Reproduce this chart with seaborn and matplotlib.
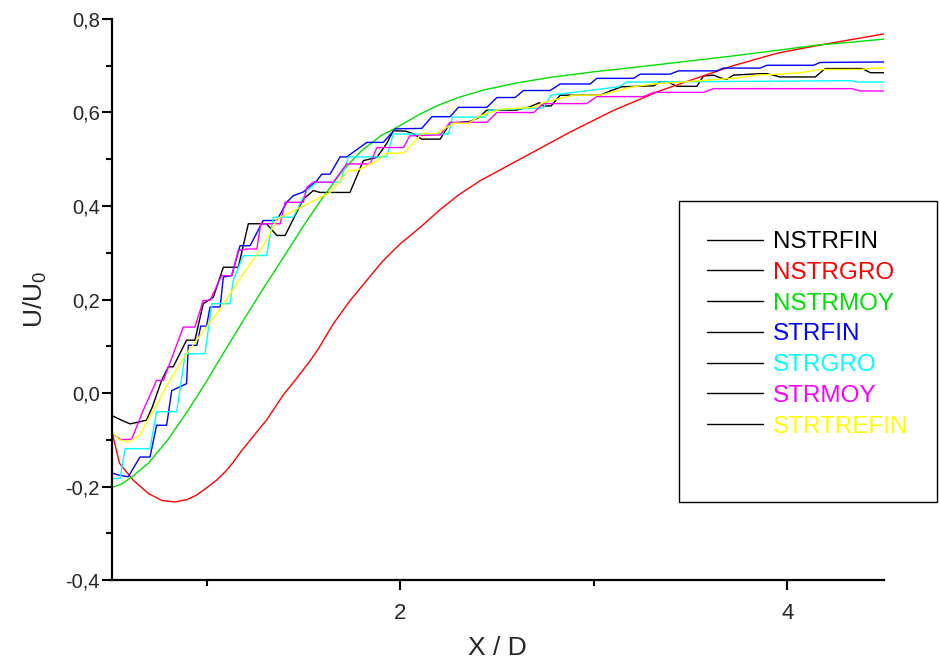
import matplotlib
matplotlib.use("Agg")
import matplotlib.pyplot as plt
import seaborn as sns
import numpy as np
from matplotlib.lines import Line2D
from matplotlib.patches import Rectangle
from matplotlib.ticker import FixedLocator, MultipleLocator, FuncFormatter

# ---------------- data ----------------
series_names = ["NSTRFIN", "NSTRGRO", "NSTRMOY", "STRFIN", "STRGRO", "STRMOY", "STRTREFIN"]
series_colors = ["#000000", "#ff0000", "#00e000", "#0000ff", "#00ffff", "#ff00ff", "#ffff00"]

nstrfin_x = [0.51, 0.56, 0.605, 0.65, 0.69, 0.72, 0.768, 0.803, 0.828, 0.897, 0.94, 0.983, 1.035, 1.087,
             1.164, 1.216, 1.31, 1.363, 1.406, 1.5, 1.552, 1.586, 1.741, 1.81, 1.88, 1.93, 1.965, 2.03,
             2.069, 2.112, 2.207, 2.258, 2.362, 2.405, 2.448, 2.6, 2.67, 2.72, 2.74, 2.78, 2.827, 3.034,
             3.085, 3.145, 3.31, 3.345, 3.38, 3.43, 3.533, 3.567, 3.62, 3.654, 3.688, 3.722, 3.86, 3.895,
             3.964, 4.145, 4.196, 4.386, 4.43, 4.5]
nstrfin_y = [-0.048, -0.058, -0.066, -0.062, -0.058, -0.03, 0.027, 0.056, 0.056, 0.113, 0.113, 0.191, 0.205, 0.269,
             0.269, 0.362, 0.362, 0.337, 0.337, 0.415, 0.433, 0.429, 0.429, 0.497, 0.504, 0.533, 0.561, 0.56,
             0.554, 0.543, 0.543, 0.577, 0.581, 0.589, 0.605, 0.605, 0.612, 0.621, 0.614, 0.614, 0.637, 0.637,
             0.646, 0.655, 0.657, 0.666, 0.666, 0.656, 0.656, 0.678, 0.68, 0.674, 0.671, 0.68, 0.683, 0.683,
             0.676, 0.676, 0.694, 0.694, 0.685, 0.685]

nstrgro_x = [0.51, 0.55, 0.62, 0.7, 0.77, 0.837, 0.9, 0.95, 1.0, 1.053, 1.1, 1.14, 1.18, 1.225, 1.27, 1.31,
             1.35, 1.395, 1.44, 1.483, 1.53, 1.58, 1.655, 1.74, 1.828, 1.91, 2.0, 2.103, 2.2, 2.3, 2.413,
             2.65, 2.878, 3.1, 3.34, 3.55, 3.72, 3.95, 4.14, 4.22, 4.36, 4.5]
nstrgro_y = [-0.08, -0.15, -0.186, -0.215, -0.23, -0.233, -0.228, -0.218, -0.203, -0.186, -0.167, -0.147,
             -0.124, -0.101, -0.078, -0.058, -0.033, -0.005, 0.018, 0.041, 0.066, 0.096, 0.148, 0.197, 0.241,
             0.282, 0.319, 0.354, 0.39, 0.423, 0.454, 0.507, 0.558, 0.604, 0.646, 0.676, 0.7, 0.727, 0.742,
             0.748, 0.758, 0.768]

nstrmoy_x = [0.51, 0.56, 0.613, 0.7, 0.8, 0.9, 1.0, 1.053, 1.1, 1.2, 1.3, 1.4, 1.5, 1.6, 1.7, 1.8, 1.9,
             2.0, 2.1, 2.2, 2.3, 2.43, 2.6, 2.775, 3.0, 3.2, 3.45, 3.72, 3.95, 4.15, 4.35, 4.5]
nstrmoy_y = [-0.202, -0.195, -0.18, -0.15, -0.1, -0.04, 0.025, 0.062, 0.094, 0.162, 0.228, 0.292, 0.357,
             0.418, 0.474, 0.518, 0.55, 0.572, 0.596, 0.616, 0.632, 0.648, 0.663, 0.675, 0.687, 0.696,
             0.708, 0.721, 0.733, 0.744, 0.751, 0.757]

strfin_x = [0.51, 0.55, 0.596, 0.656, 0.708, 0.742, 0.794, 0.82, 0.897, 0.906, 0.95, 0.97, 1.0, 1.018,
            1.07, 1.087, 1.13, 1.173, 1.225, 1.293, 1.363, 1.414, 1.448, 1.5, 1.57, 1.595, 1.638, 1.69,
            1.724, 1.828, 1.913, 1.975, 2.112, 2.164, 2.258, 2.301, 2.448, 2.5, 2.594, 2.637, 2.775, 2.827,
            2.982, 3.016, 3.206, 3.24, 3.395, 3.438, 3.636, 3.67, 3.86, 3.895, 4.136, 4.17, 4.5]
strfin_y = [-0.171, -0.176, -0.179, -0.137, -0.137, -0.069, -0.069, 0.005, 0.02, 0.102, 0.102, 0.143, 0.143,
            0.184, 0.184, 0.248, 0.251, 0.315, 0.315, 0.369, 0.369, 0.408, 0.422, 0.43, 0.454, 0.468, 0.468,
            0.505, 0.505, 0.536, 0.536, 0.565, 0.566, 0.591, 0.591, 0.611, 0.611, 0.632, 0.632, 0.647, 0.647,
            0.661, 0.661, 0.673, 0.673, 0.682, 0.682, 0.689, 0.689, 0.695, 0.695, 0.701, 0.701, 0.707, 0.708]

strgro_x = [0.51, 0.553, 0.579, 0.708, 0.742, 0.846, 0.89, 0.992, 1.027, 1.121, 1.138, 1.19, 1.31, 1.345,
            1.448, 1.518, 1.57, 1.69, 1.733, 1.93, 1.965, 2.25, 2.27, 2.44, 2.46, 2.74, 2.78, 3.13, 3.17,
            4.33, 4.36, 4.5]
strgro_y = [-0.183, -0.183, -0.119, -0.119, -0.04, -0.04, 0.084, 0.084, 0.191, 0.191, 0.241, 0.294, 0.294,
            0.376, 0.376, 0.433, 0.451, 0.451, 0.505, 0.505, 0.554, 0.554, 0.59, 0.59, 0.605, 0.61, 0.637,
            0.655, 0.665, 0.668, 0.665, 0.665]

strmoy_x = [0.51, 0.56, 0.613, 0.673, 0.742, 0.777, 0.88, 0.94, 0.983, 1.018, 1.078, 1.13, 1.164, 1.207,
            1.26, 1.28, 1.38, 1.406, 1.5, 1.518, 1.552, 1.655, 1.724, 1.845, 1.88, 2.017, 2.05, 2.207, 2.258,
            2.448, 2.5, 2.69, 2.74, 2.964, 3.016, 3.257, 3.31, 3.567, 3.62, 4.334, 4.377, 4.5]
strmoy_y = [-0.087, -0.1, -0.099, -0.037, 0.027, 0.027, 0.141, 0.141, 0.198, 0.198, 0.251, 0.251, 0.305,
            0.308, 0.308, 0.362, 0.362, 0.408, 0.408, 0.44, 0.451, 0.451, 0.49, 0.49, 0.525, 0.525, 0.55,
            0.552, 0.579, 0.579, 0.6, 0.6, 0.619, 0.619, 0.634, 0.634, 0.643, 0.643, 0.651, 0.651, 0.646,
            0.646]

strtrefin_x = [0.51, 0.55, 0.596, 0.656, 0.7, 0.75, 0.794, 0.837, 0.897, 0.97, 1.053, 1.12, 1.19, 1.25,
               1.31, 1.363, 1.45, 1.552, 1.638, 1.733, 1.776, 1.88, 1.93, 2.017, 2.06, 2.112, 2.19, 2.275,
               2.353, 2.413, 2.517, 2.69, 2.74, 2.895, 3.034, 3.137, 3.19, 3.31, 3.414, 3.55, 3.77, 3.843,
               3.964, 4.067, 4.17, 4.38, 4.44, 4.5]
strtrefin_y = [-0.083, -0.1, -0.105, -0.09, -0.055, -0.02, 0.016, 0.045, 0.084, 0.125, 0.17, 0.21, 0.255,
               0.29, 0.326, 0.372, 0.39, 0.411, 0.429, 0.476, 0.476, 0.497, 0.513, 0.513, 0.531, 0.555, 0.555,
               0.577, 0.577, 0.593, 0.607, 0.611, 0.621, 0.637, 0.637, 0.648, 0.654, 0.661, 0.664, 0.668,
               0.675, 0.68, 0.682, 0.685, 0.692, 0.692, 0.695, 0.695]

series_x = [nstrfin_x, nstrgro_x, nstrmoy_x, strfin_x, strgro_x, strmoy_x, strtrefin_x]
series_y = [nstrfin_y, nstrgro_y, nstrmoy_y, strfin_y, strgro_y, strmoy_y, strtrefin_y]

x_major_ticks = [2, 4]
x_minor_ticks = [1, 3]
y_major_ticks = [-0.4, -0.2, 0.0, 0.2, 0.4, 0.6, 0.8]

# ---------------- plot ----------------
sns.set_style("ticks")
plt.rcParams["font.family"] = ["Liberation Sans", "DejaVu Sans"]

fig = plt.figure(figsize=(9.4, 6.66), dpi=100)
ax = fig.add_axes([0.1188, 0.1291, 0.8217, 0.8424])

for xs, ys, c in zip(series_x, series_y, series_colors):
    sns.lineplot(x=xs, y=ys, color=c, lw=1.0, ax=ax, estimator=None, sort=False, legend=False)

ax.set_xlim(0.51, 4.5)
ax.set_ylim(-0.4, 0.8)
sns.despine(ax=ax, top=True, right=True)
for s in ("left", "bottom"):
    ax.spines[s].set_linewidth(1.6)
    ax.spines[s].set_color("black")

ax.xaxis.set_major_locator(FixedLocator(x_major_ticks))
ax.xaxis.set_minor_locator(FixedLocator(x_minor_ticks))
ax.yaxis.set_major_locator(FixedLocator(y_major_ticks))
ax.yaxis.set_minor_locator(MultipleLocator(0.1))
ax.yaxis.set_major_formatter(FuncFormatter(lambda v, p: f"{v:.1f}".replace(".", ",")))
ax.tick_params(which="major", direction="out", length=7.5, width=1.5, color="black")
ax.tick_params(which="minor", direction="out", length=4, width=1.5, color="black")
ax.tick_params(axis="y", which="major", labelsize=14.5, pad=1)
ax.tick_params(axis="x", which="major", labelsize=16, pad=9)

ax.set_xlabel("X / D", fontsize=19, labelpad=9)
ax.set_ylabel(r"U/U$_\mathregular{0}$", fontsize=19, labelpad=12)

# legend
handles = [Line2D([0], [0], color="black", lw=1.0) for _ in series_names]
leg = ax.legend(handles, series_names, loc="upper left", bbox_to_anchor=(707 / 940, (666 - 231) / 666),
                bbox_transform=fig.transFigure, frameon=False, fontsize=17.5, labelcolor=series_colors,
                handlelength=2.3, handletextpad=0.4, borderpad=0, borderaxespad=0, labelspacing=0.36)
box = Rectangle((679 / 940, (666 - 502) / 666), 258 / 940, 301 / 666, transform=fig.transFigure,
                fill=False, edgecolor="black", lw=1.0, clip_on=False)
fig.patches.append(box)

fig.savefig("out.png", dpi=100)
